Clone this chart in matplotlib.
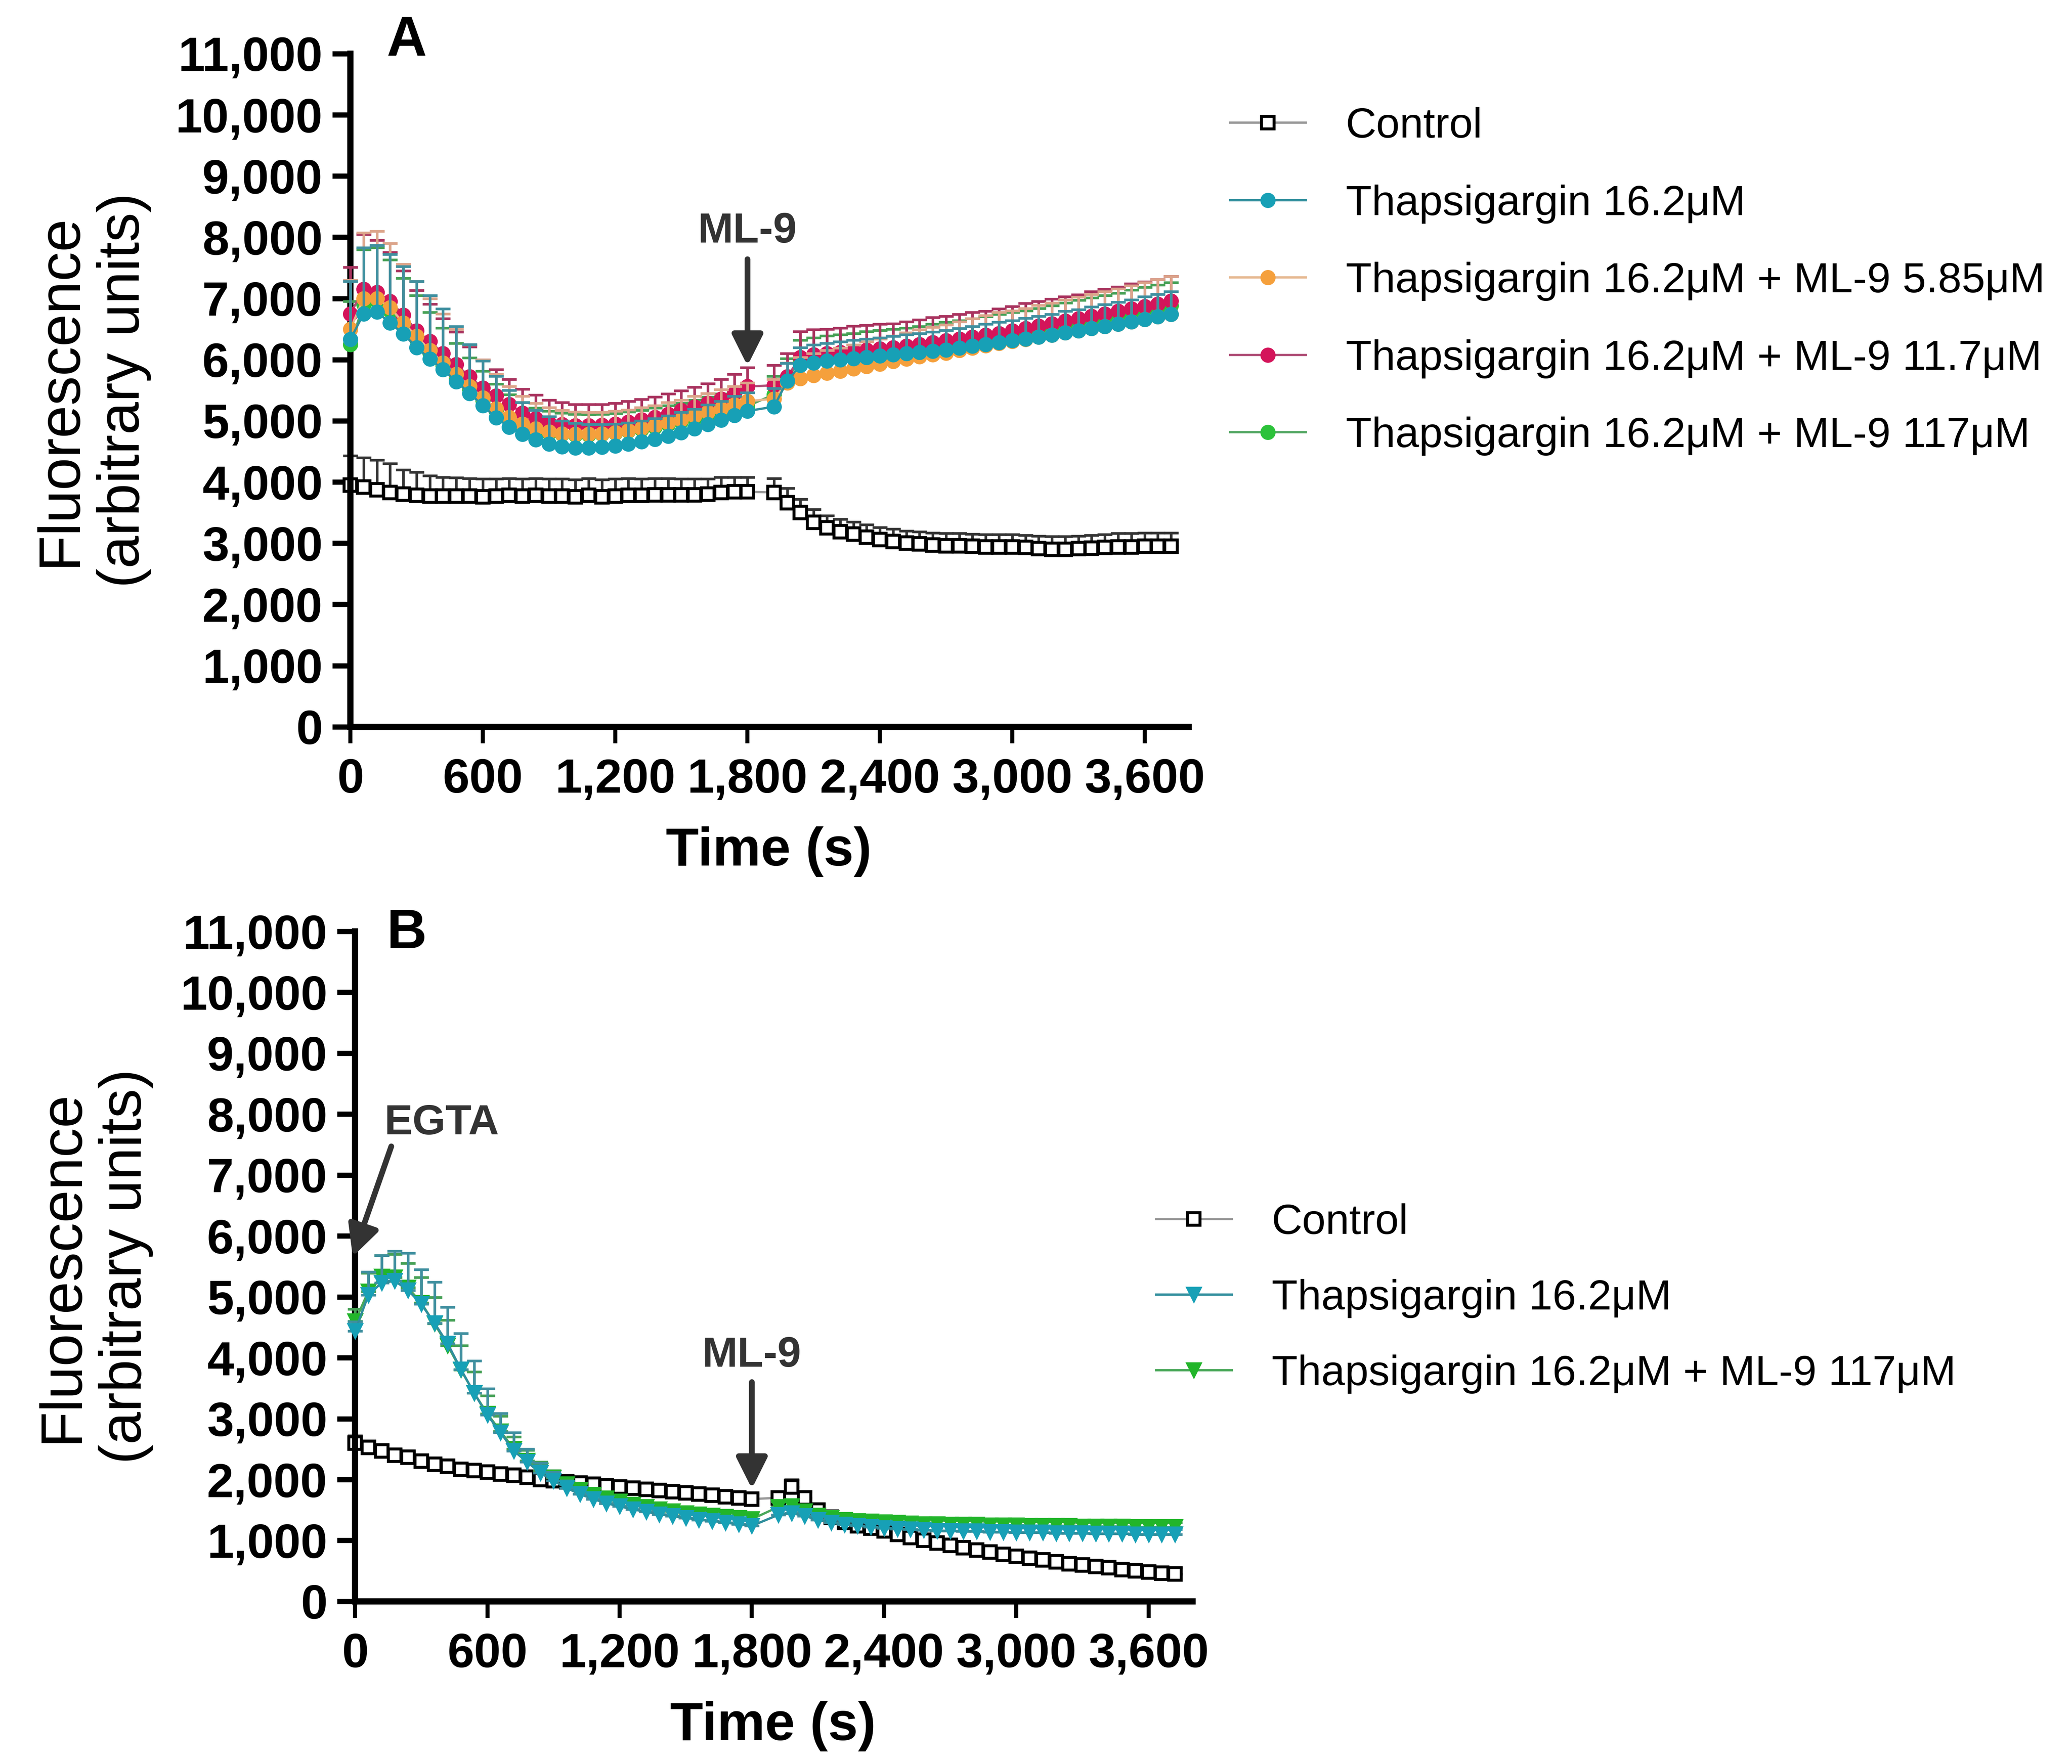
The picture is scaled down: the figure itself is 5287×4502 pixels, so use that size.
import matplotlib
matplotlib.use("Agg")
import matplotlib.pyplot as plt
from matplotlib.ticker import FuncFormatter, MultipleLocator
from matplotlib.patches import ArrowStyle

plt.rcParams['font.family'] = ['Liberation Sans', 'DejaVu Sans']

# sampling times (s); no reading at 1860 s while ML-9 was added
time_s = [0, 60, 120, 180, 240, 300, 360, 420, 480, 540, 600, 660, 720, 780, 840, 900,
          960, 1020, 1080, 1140, 1200, 1260, 1320, 1380, 1440, 1500, 1560, 1620, 1680,
          1740, 1800,
          1920, 1980, 2040, 2100, 2160, 2220, 2280, 2340, 2400, 2460, 2520, 2580, 2640,
          2700, 2760, 2820, 2880, 2940, 3000, 3060, 3120, 3180, 3240, 3300, 3360, 3420,
          3480, 3540, 3600, 3660, 3720]

# ---- panel A ----
control_a = [3950, 3920, 3870, 3830, 3800, 3780, 3770, 3770, 3770, 3770, 3760, 3770, 3780,
             3770, 3780, 3770, 3770, 3760, 3780, 3760, 3770, 3780, 3780, 3790, 3790, 3790,
             3790, 3800, 3830, 3840, 3840,
             3830, 3660, 3500, 3340, 3250, 3190, 3150, 3100, 3060, 3030, 3000, 2990, 2970,
             2960, 2960, 2950, 2940, 2940, 2940, 2930, 2910, 2900, 2900, 2910, 2920, 2930,
             2940, 2940, 2950, 2950, 2950]
control_a_err = [480, 480, 490, 470, 400, 380, 330, 310, 300, 290, 290, 280, 280, 280, 280,
                 280, 280, 280, 280, 280, 280, 280, 270, 270, 270, 260, 260, 250, 250, 240, 240,
                 230, 240, 220, 210, 200, 200, 200, 200, 200, 200, 200, 200, 200, 200, 200,
                 200, 200, 200, 200, 200, 210, 210, 210, 210, 210, 210, 220, 220, 220, 220, 220]

thaps_a = [6330, 6750, 6780, 6600, 6420, 6200, 6010, 5840, 5640, 5450, 5250, 5050, 4900,
           4780, 4690, 4620, 4580, 4560, 4560, 4570, 4590, 4620, 4660, 4700, 4750, 4810,
           4870, 4940, 5010, 5090, 5160,
           5230, 5650, 5910, 5950, 5980, 6000, 6020, 6040, 6060, 6080, 6100, 6120, 6140,
           6160, 6190, 6220, 6250, 6280, 6310, 6340, 6370, 6400, 6440, 6470, 6510, 6540,
           6580, 6620, 6660, 6700, 6740]
thaps_a_err = [950, 1080, 1090, 1120, 1100, 1080, 1040, 990, 900, 800, 730, 680, 600, 520,
               480, 450, 420, 400, 380, 370, 360, 350, 340, 340, 330, 330, 320, 320, 310, 310, 300,
               300, 290, 290, 290, 290, 290, 300, 300, 300, 300, 310, 310, 310, 320, 320,
               320, 330, 330, 330, 340, 340, 340, 350, 350, 350, 360, 360, 360, 370, 370, 370]

ml9_585 = [6500, 7000, 7000, 6850, 6600, 6380, 6150, 5950, 5760, 5560, 5380, 5200, 5060,
           4950, 4870, 4820, 4790, 4780, 4780, 4790, 4810, 4840, 4880, 4920, 4970, 5020,
           5080, 5140, 5200, 5260, 5320,
           5360, 5620, 5690, 5740, 5780, 5810, 5850, 5890, 5930, 5970, 6010, 6050, 6080,
           6110, 6150, 6190, 6230, 6270, 6300, 6330, 6370, 6400, 6440, 6470, 6510, 6540,
           6580, 6620, 6660, 6700, 6740]
ml9_585_err = [800, 1070, 1100, 1050, 960, 900, 850, 800, 740, 680, 620, 560, 500, 450,
               420, 400, 380, 370, 360, 350, 350, 340, 340, 330, 330, 320, 320, 310, 310, 300, 300,
               320, 330, 350, 360, 370, 380, 390, 400, 410, 420, 430, 440, 450, 460, 470,
               480, 490, 500, 500, 510, 520, 530, 540, 550, 560, 570, 580, 590, 600, 610, 620]

ml9_117 = [6750, 7150, 7100, 6950, 6730, 6470, 6300, 6100, 5920, 5720, 5540, 5410, 5270,
           5130, 5040, 4970, 4940, 4920, 4920, 4930, 4950, 4980, 5020, 5060, 5110, 5170,
           5230, 5290, 5360, 5450, 5560,
           5580, 5720, 6040, 6080, 6100, 6120, 6140, 6160, 6180, 6200, 6220, 6250, 6280,
           6310, 6340, 6370, 6400, 6430, 6470, 6510, 6550, 6590, 6630, 6670, 6710, 6750,
           6790, 6830, 6870, 6910, 6960]
ml9_117_err = [760, 900, 850, 800, 720, 660, 610, 570, 530, 490, 460, 430, 410, 390, 380,
               370, 360, 350, 350, 340, 340, 340, 330, 330, 330, 320, 320, 320, 320, 310, 310,
               330, 380, 420, 410, 400, 400, 410, 400, 400, 390, 400, 400, 410, 400, 400,
               400, 390, 400, 400, 410, 400, 400, 400, 390, 400, 400, 400, 410, 400, 400, 400]

ml9_117a = [6250, 6900, 6950, 6800, 6560, 6330, 6100, 5900, 5700, 5510, 5330, 5160, 5020,
            4910, 4840, 4800, 4780, 4770, 4770, 4780, 4800, 4830, 4860, 4900, 4940, 4990,
            5040, 5090, 5140, 5190, 5240,
            5430, 5700, 5990, 6030, 6060, 6080, 6100, 6120, 6140, 6160, 6180, 6200, 6230,
            6260, 6290, 6320, 6350, 6380, 6410, 6440, 6480, 6520, 6560, 6600, 6640, 6680,
            6720, 6760, 6800, 6840, 6880]
ml9_117a_err = [700, 900, 880, 830, 770, 720, 670, 620, 570, 520, 480, 440, 410, 390, 370,
                360, 350, 340, 330, 330, 320, 320, 310, 310, 310, 300, 300, 300, 300, 290, 290,
                300, 320, 330, 330, 330, 330, 330, 340, 340, 340, 340, 340, 350, 350, 350,
                350, 350, 360, 360, 360, 360, 360, 370, 370, 370, 370, 370, 380, 380, 380, 380]

# ---- panel B ----
control_b = [2600, 2530, 2470, 2400, 2370, 2300, 2250, 2220, 2170, 2150, 2120, 2090, 2070,
             2040, 2000, 1980, 1960, 1940, 1920, 1900, 1880, 1860, 1840, 1820, 1800, 1780,
             1760, 1740, 1720, 1700, 1680,
             1700, 1880, 1700, 1500, 1380, 1300, 1240, 1200, 1160, 1100, 1050, 1000, 960,
             920, 880, 840, 810, 770, 740, 710, 680, 650, 620, 600, 570, 550, 520, 500,
             480, 460, 450]
control_b_err = [120, 110, 100, 100, 90, 90, 90, 80, 80, 80, 80, 80, 80, 80, 80, 80, 80, 80,
                 80, 80, 80, 80, 80, 80, 80, 80, 80, 80, 80, 80, 80,
                 80, 120, 110, 100, 90, 90, 90, 90, 90, 90, 90, 90, 90, 90, 90, 90, 90, 100,
                 100, 100, 100, 100, 100, 100, 100, 100, 100, 100, 100, 100, 100]

thaps_b = [4440, 5030, 5230, 5260, 5110, 4880, 4570, 4230, 3810, 3420, 3060, 2770, 2470,
           2290, 2110, 1980, 1860, 1760, 1680, 1610, 1560, 1510, 1470, 1430, 1400, 1370,
           1340, 1320, 1290, 1270, 1240,
           1420, 1450, 1400, 1340, 1290, 1260, 1240, 1220, 1200, 1190, 1180, 1170, 1160,
           1160, 1150, 1150, 1140, 1140, 1130, 1130, 1130, 1120, 1120, 1120, 1110, 1110,
           1110, 1100, 1100, 1100, 1100]
thaps_b_err = [150, 380, 450, 490, 610, 570, 670, 600, 590, 530, 430, 320, 300, 210, 160,
               140, 120, 110, 100, 100, 100, 90, 90, 90, 90, 90, 90, 90, 90, 90, 90,
               90, 100, 90, 80, 80, 80, 80, 80, 80, 80, 80, 80, 80, 80, 80, 80, 80, 80, 80,
               80, 80, 80, 80, 80, 80, 80, 80, 80, 80, 80, 80]

ml9_117b = [4600, 5090, 5330, 5320, 5150, 4900, 4560, 4200, 3800, 3420, 3080, 2790, 2500,
            2310, 2150, 2030, 1920, 1830, 1750, 1690, 1640, 1590, 1550, 1510, 1480, 1450,
            1430, 1410, 1390, 1370, 1350,
            1550, 1560, 1480, 1410, 1370, 1340, 1320, 1310, 1300, 1290, 1280, 1270, 1270,
            1260, 1260, 1260, 1250, 1250, 1250, 1240, 1240, 1240, 1240, 1230, 1230, 1230,
            1230, 1220, 1220, 1220, 1220]
ml9_117b_err = [200, 300, 350, 380, 400, 420, 430, 420, 400, 350, 300, 250, 200, 170, 140,
                120, 110, 100, 100, 90, 90, 90, 80, 80, 80, 80, 80, 80, 80, 80, 80,
                90, 100, 90, 80, 80, 70, 70, 70, 70, 70, 70, 70, 70, 70, 70, 70, 70, 70, 70,
                70, 70, 70, 70, 70, 70, 70, 70, 70, 70, 70, 70]

labels_a = ['Control', 'Thapsigargin 16.2μM', 'Thapsigargin 16.2μM + ML-9 5.85μM',
            'Thapsigargin 16.2μM + ML-9 11.7μM', 'Thapsigargin 16.2μM + ML-9 117μM']
labels_b = ['Control', 'Thapsigargin 16.2μM', 'Thapsigargin 16.2μM + ML-9 117μM']

ARROW = ArrowStyle('-|>', head_length=0.8, head_width=0.4)
DARK = '#333333'


def draw_series(ax, y, err, marker, face, edge, line, ecolor, z, ms=8.5, mew=0.8):
    n = len(time_s)
    ax.errorbar(time_s, y, yerr=[[0] * n, err], fmt='none', ecolor=ecolor,
                elinewidth=1.6, capsize=4.5, capthick=1.6, zorder=z, clip_on=False)
    h, = ax.plot(time_s, y, color=line, lw=1.4, marker=marker, ms=ms, mfc=face,
                 mec=edge, mew=mew, zorder=z + 0.5, clip_on=False)
    return h


def style_axes(ax):
    ax.set_xlim(0, 3800)
    ax.set_ylim(0, 11000)
    ax.xaxis.set_major_locator(MultipleLocator(600))
    ax.yaxis.set_major_locator(MultipleLocator(1000))
    fmt = FuncFormatter(lambda v, p: f'{int(v):,}')
    ax.xaxis.set_major_formatter(fmt)
    ax.yaxis.set_major_formatter(fmt)
    for side in ['top', 'right']:
        ax.spines[side].set_visible(False)
    for side in ['left', 'bottom']:
        ax.spines[side].set_linewidth(3.8)
    ax.tick_params(axis='y', width=3.2, length=11, labelsize=29.5, pad=6)
    ax.tick_params(axis='x', width=2.5, length=10, labelsize=29.5, pad=9)
    for lbl in ax.get_xticklabels() + ax.get_yticklabels():
        lbl.set_fontweight('bold')


def add_arrow(ax, x0, y0, x1, y1):
    ax.annotate('', xy=(x1, y1), xytext=(x0, y0), annotation_clip=False,
                arrowprops=dict(arrowstyle=ARROW, lw=3.5, color=DARK, mutation_scale=20,
                                shrinkA=0, shrinkB=0))


def main():
    fig = plt.figure(figsize=(5287 / 300, 4502 / 300), dpi=300)

    # ---- panel A ----
    ax = fig.add_axes([0.1691, 0.5880, 0.4046, 0.3816])
    h0 = draw_series(ax, control_a, control_a_err, 's', 'white', 'black', '#999999',
                     '#333333', 2, ms=7.8, mew=1.8)
    h4 = draw_series(ax, ml9_117a, ml9_117a_err, 'o', '#2cc23a', '#2cc23a', '#55a865',
                     '#45a055', 3)
    h3 = draw_series(ax, ml9_117, ml9_117_err, 'o', '#d4145a', '#d4145a', '#b05078',
                     '#a8325e', 4)
    h2 = draw_series(ax, ml9_585, ml9_585_err, 'o', '#f5a03c', '#f5a03c', '#e6b890',
                     '#dca48a', 5)
    h1 = draw_series(ax, thaps_a, thaps_a_err, 'o', '#17a0b6', '#17a0b6', '#2f8e9c',
                     '#3f8f9f', 6)
    style_axes(ax)
    add_arrow(ax, 1800, 7640, 1800, 5900)
    ax.text(1800, 8090, 'ML-9', ha='center', va='center', fontsize=26,
            fontweight='bold', color=DARK)
    ax.legend([h0, h1, h2, h3, h4], labels_a, loc='upper left',
              bbox_to_anchor=(0.5937, 0.9393), bbox_transform=fig.transFigure,
              frameon=False, fontsize=26, handlelength=1.78, handletextpad=0.94,
              labelspacing=0.9, borderpad=0, borderaxespad=0)
    fig.text(1038 / 5287, 1 - 105 / 4502, 'A', ha='center', va='center', fontsize=34,
             fontweight='bold')
    fig.text(235 / 5287, 1 - 996 / 4502, 'Fluorescence\n(arbitrary units)', rotation=90,
             ha='center', va='center', multialignment='center', fontsize=36)
    fig.text(1962 / 5287, 1 - 2173 / 4502, 'Time (s)', ha='center', va='center',
             fontsize=33, fontweight='bold')

    # ---- panel B ----
    ax = fig.add_axes([0.1714, 0.0922, 0.4042, 0.3798])
    g0 = draw_series(ax, control_b, control_b_err, 's', 'white', 'black', '#999999',
                     '#333333', 2, ms=7.8, mew=1.8)
    g2 = draw_series(ax, ml9_117b, ml9_117b_err, 'v', '#22b52a', '#22b52a', '#4aa85a',
                     '#45a055', 3, ms=9)
    g1 = draw_series(ax, thaps_b, thaps_b_err, 'v', '#17a0b6', '#17a0b6', '#2f8e9c',
                     '#3f8f9f', 4, ms=9)
    style_axes(ax)
    add_arrow(ax, 1800, 3600, 1800, 1850)
    ax.text(1800, 4030, 'ML-9', ha='center', va='center', fontsize=26,
            fontweight='bold', color=DARK)
    add_arrow(ax, 164, 7470, -11, 5660)
    ax.text(393, 7850, 'EGTA', ha='center', va='center', fontsize=26,
            fontweight='bold', color=DARK)
    ax.legend([g0, g1, g2], labels_b, loc='upper left',
              bbox_to_anchor=(2950 / 5287, 1 - 3071 / 4502), bbox_transform=fig.transFigure,
              frameon=False, fontsize=26, handlelength=1.78, handletextpad=0.94,
              labelspacing=0.86, borderpad=0, borderaxespad=0)
    fig.text(1038 / 5287, 1 - 2383 / 4502, 'B', ha='center', va='center', fontsize=34,
             fontweight='bold')
    fig.text(240 / 5287, 1 - 3232 / 4502, 'Fluorescence\n(arbitrary units)', rotation=90,
             ha='center', va='center', multialignment='center', fontsize=36)
    fig.text(1972 / 5287, 1 - 4405 / 4502, 'Time (s)', ha='center', va='center',
             fontsize=33, fontweight='bold')

    fig.savefig('out.png', dpi=300)


if __name__ == '__main__':
    main()
